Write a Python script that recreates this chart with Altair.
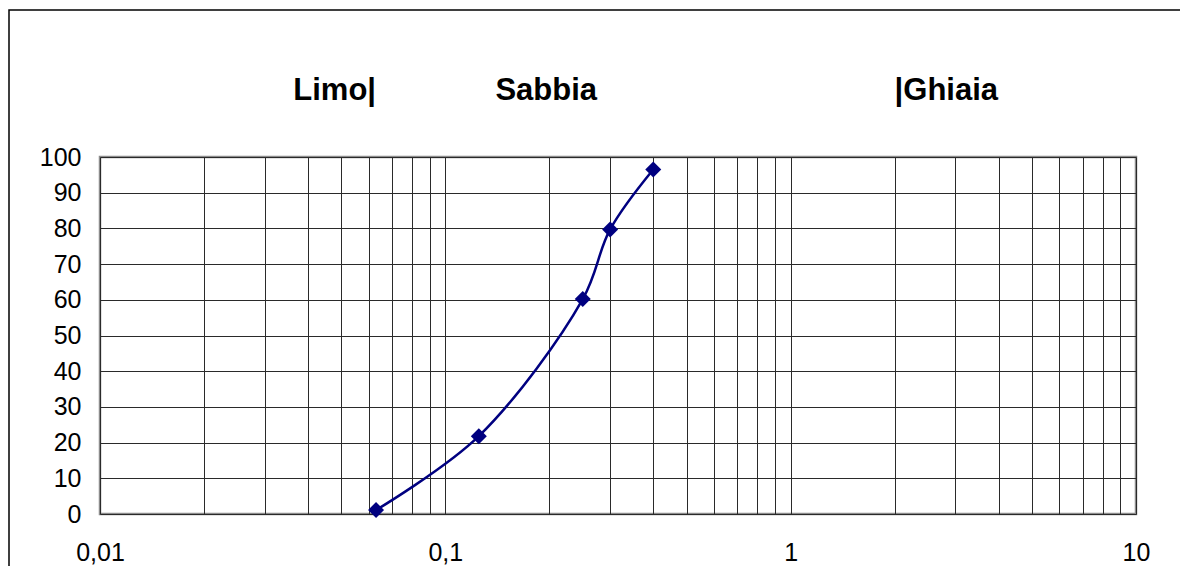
import altair as alt
import pandas as pd

# ---- data ----
diam_mm = [0.063, 0.125, 0.25, 0.3, 0.4]
passing_pct = [1.1, 21.8, 60.2, 79.7, 96.5]

x_grid_values = [0.01, 0.02, 0.03, 0.04, 0.05, 0.06, 0.07, 0.08, 0.09,
                 0.1, 0.2, 0.3, 0.4, 0.5, 0.6, 0.7, 0.8, 0.9,
                 1, 2, 3, 4, 5, 6, 7, 8, 9, 10]
x_major_values = [0.01, 0.1, 1, 10]
x_major_labels = ["0,01", "0,1", "1", "10"]
y_values = [0, 10, 20, 30, 40, 50, 60, 70, 80, 90, 100]

zone_names = ["Limo|", "Sabbia", "|Ghiaia"]
zone_anchor = [0.063, 0.196, 2.0]
zone_align = ["right", "center", "left"]

FONT = "Liberation Sans"

label_expr = " : ".join(
    [f"datum.value == {v} ? '{l}'" for v, l in zip(x_major_values, x_major_labels)]
) + " : ''"

df = pd.DataFrame({"d": diam_mm, "p": passing_pct})

x_scale = alt.Scale(type="log", domain=[0.01, 10], nice=False)
y_scale = alt.Scale(domain=[0, 100], nice=False)

x_axis = alt.Axis(values=x_grid_values, labelExpr=label_expr, grid=True,
                  gridColor="#2a2a2a", gridWidth=1, ticks=False, domain=False,
                  labelFont=FONT, labelFontSize=25, labelColor="black",
                  labelPadding=26, title=None, labelFlush=False, labelOverlap=False)
y_axis = alt.Axis(values=y_values, tickCount=11, grid=True, gridColor="#2a2a2a",
                  gridWidth=1, ticks=False, domain=False, labelFont=FONT,
                  labelFontSize=25, labelColor="black", labelPadding=19, title=None,
                  labelBaseline="middle", labelOverlap=False, labelFlush=False)

base = alt.Chart(df)

line = base.mark_line(color="#000080", strokeWidth=2.5, interpolate="catmull-rom").encode(
    x=alt.X("d:Q", scale=x_scale, axis=x_axis),
    y=alt.Y("p:Q", scale=y_scale, axis=y_axis),
)

points = base.mark_point(shape="diamond", filled=True, color="#000080", size=256, opacity=1).encode(
    x=alt.X("d:Q", scale=x_scale, axis=x_axis),
    y=alt.Y("p:Q", scale=y_scale, axis=y_axis),
)

zone_layers = []
for name, anchor, al in zip(zone_names, zone_anchor, zone_align):
    zone_layers.append(
        alt.Chart(pd.DataFrame({"d": [anchor], "t": [name]})).mark_text(
            align=al, baseline="middle", font=FONT, fontSize=31, fontWeight="bold",
            color="black"
        ).encode(
            x=alt.X("d:Q", scale=x_scale, axis=x_axis),
            y=alt.value(-66),
            text="t:N",
        )
    )

frame = alt.Chart(pd.DataFrame({"k": [0]})).mark_rect(
    filled=False, stroke="black", strokeWidth=1.5, fill=None
).encode(
    x=alt.value(-91), x2=alt.value(1300), y=alt.value(-147), y2=alt.value(700)
)

chart = alt.layer(line, points, *zone_layers, frame).properties(
    width=1036, height=357,
    padding={"left": 92, "top": 149, "right": 44, "bottom": 52},
    autosize=alt.AutoSizeParams(type="none"),
    background="white",
).configure_view(stroke="#8c8c8c", strokeWidth=2.5)

chart.save("out.html", embed_options={"renderer": "svg", "actions": False})
